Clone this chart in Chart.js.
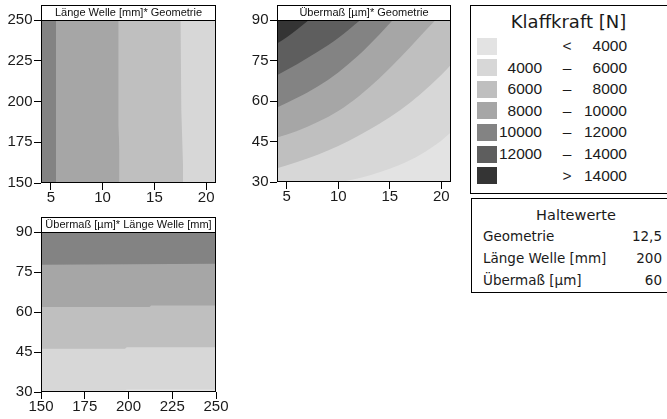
<!DOCTYPE html>
<html>
<head>
<meta charset="utf-8">
<script src="https://cdn.jsdelivr.net/npm/chart.js@4.4.0/dist/chart.umd.min.js"></script>
<style>
body { margin: 0; background: #fff; width: 667px; height: 419px; overflow: hidden; position: relative; font-family: "Liberation Sans", Arial, sans-serif; color: #1a1a1a; }
canvas { position: absolute; }
.rahmen { position: absolute; border: 1px solid #000; background: #fff; }
.txt { position: absolute; white-space: nowrap; line-height: 1; }
</style>
</head>
<body>
<canvas id="c1" width="232" height="215" style="left:0;top:0"></canvas>
<canvas id="c2" width="232" height="215" style="left:236px;top:0"></canvas>
<canvas id="c3" width="240" height="207" style="left:0;top:212px"></canvas>
<div class="rahmen" id="legende" style="left:470px;top:5px;width:230px;height:187px"></div>
<div class="rahmen" id="halte" style="left:471px;top:198px;width:230px;height:93px"></div>
<script>
// Klassen der Klaffkraft [N]
const stufenVon = [null, 4000, 6000, 8000, 10000, 12000, 14000];
const stufenBis = [4000, 6000, 8000, 10000, 12000, 14000, null];
const grau = ['#e3e3e3', '#d7d7d7', '#bfbfbf', '#a6a6a6', '#838383', '#5e5e5e', '#343434'];

// Haltewerte
const halteNamen = ['Geometrie', 'Länge Welle [mm]', 'Übermaß [µm]'];
const halteWerte = ['12,5', '200', '60'];

// Achsen
const geoTicks = [5, 10, 15, 20];
const laengeTicks = [150, 175, 200, 225, 250];
const uebermassTicks = [30, 45, 60, 75, 90];

// Panel 1: Länge Welle über Geometrie, Grenzlinien [Geometrie, Länge]
const lgGrenze6000 = [[4.0, 250], [17.53, 250], [17.6, 195], [17.77, 160], [17.77, 150]];
const lgGrenze8000 = [[4.0, 250], [11.53, 250], [11.53, 185], [11.63, 170], [11.63, 150]];
const lgGrenze10000 = [[4.0, 250], [5.5, 250], [5.5, 150]];

// Panel 2: Übermaß über Geometrie, Grenzlinien [Geometrie, Übermaß]
const ugGrenze4000 = [[10.2, 30], [12, 31.4], [14, 33.6], [16, 36.4], [18, 40.2], [20, 45.3], [21, 48.6]];
const ugGrenze6000 = [[4, 35.0], [6, 37.4], [8, 40.1], [10, 43.3], [12, 47.2], [14, 51.6], [16, 56.6], [18, 62.6], [20, 69.6], [21, 73.6]];
const ugGrenze8000 = [[4, 46.4], [6, 48.9], [8, 52.2], [10, 56.3], [12, 61.8], [14, 68.4], [16, 76.0], [18, 84.2], [19.45, 90]];
const ugGrenze10000 = [[4, 57.5], [6, 61.2], [8, 65.4], [10, 70.6], [12, 77.0], [14, 84.6], [15.3, 90]];
const ugGrenze12000 = [[4, 69.4], [6, 73.6], [8, 78.2], [10, 83.3], [12.15, 90]];
const ugGrenze14000 = [[4, 81.2], [5, 83.6], [6, 86.5], [7.15, 90]];

// Panel 3: Übermaß über Länge Welle, Grenzlinien [Länge, Übermaß]
const ulGrenze4000 = [[150, 30.5], [198, 30.5], [199, 30.9], [250, 30.9]];
const ulGrenze6000 = [[150, 46.25], [198, 46.25], [199, 46.75], [250, 46.75]];
const ulGrenze8000 = [[150, 61.9], [212, 61.9], [213, 62.4], [250, 62.4]];
const ulGrenze10000 = [[150, 77.7], [250, 78.1]];

// Hintergrund, Rahmen und Titelkasten je Diagramm
const kasten = {
    id: 'kasten',
    beforeDatasetsDraw(chart, args, opts) {
        const a = chart.chartArea, c = chart.ctx;
        c.save();
        c.fillStyle = opts.grund;
        c.fillRect(a.left, a.top, a.width, a.height);
        c.restore();
    },
    afterDraw(chart, args, opts) {
        const a = chart.chartArea, c = chart.ctx;
        c.save();
        c.fillStyle = '#fff';
        c.fillRect(a.left, a.top - 15, a.width, 15);
        c.strokeStyle = '#000';
        c.lineWidth = 1;
        c.strokeRect(a.left + 0.5, a.top - 14.5, a.width - 1, a.height + 14);
        c.beginPath();
        c.moveTo(a.left, a.top + 0.5);
        c.lineTo(a.right, a.top + 0.5);
        c.stroke();
        c.fillStyle = '#111';
        c.font = '11px "Liberation Sans"';
        c.textAlign = 'center';
        c.textBaseline = 'middle';
        c.fillText(opts.titel, (a.left + a.right) / 2, a.top - 7);
        c.restore();
    }
};

function flaeche(punkte, stufe, fill, glatt) {
    return {
        data: punkte.map(p => ({ x: p[0], y: p[1] })),
        fill: fill,
        backgroundColor: grau[stufe],
        borderColor: 'rgba(0,0,0,0)',
        borderWidth: 0,
        pointRadius: 0,
        tension: 0,
        cubicInterpolationMode: glatt ? 'monotone' : 'default',
        order: 10 - stufe
    };
}

function achse(min, max, ticks, fit, feld, abstand) {
    return {
        type: 'linear', min: min, max: max,
        afterBuildTicks: s => { s.ticks = ticks.map(v => ({ value: v })); },
        afterFit: s => { s[feld] = fit; },
        border: { display: false },
        grid: { drawOnChartArea: false, drawTicks: true, tickLength: 7, color: '#000' },
        ticks: { color: '#1a1a1a', font: { family: 'Liberation Sans', size: 15 }, padding: abstand, maxRotation: 0, autoSkip: false }
    };
}

function diagramm(id, datasets, x, y, rechts, titel, grund) {
    new Chart(document.getElementById(id), {
        type: 'line',
        data: { datasets: datasets },
        options: {
            responsive: false,
            animation: false,
            events: [],
            layout: { padding: { top: 20, left: 0, right: rechts, bottom: 0 } },
            plugins: { legend: { display: false }, tooltip: { enabled: false }, kasten: { titel: titel, grund: grund } },
            scales: { x: x, y: y }
        },
        plugins: [kasten]
    });
}

diagramm('c1', [
    flaeche(lgGrenze6000, 2, 'start'),
    flaeche(lgGrenze8000, 3, 'start'),
    flaeche(lgGrenze10000, 4, 'start')
], achse(4.05, 20.95, geoTicks, 32, 'height', -1), achse(150, 250, laengeTicks, 41, 'width', 1.5), 16,
'Länge Welle [mm]* Geometrie', grau[1]);

diagramm('c2', [
    flaeche(ugGrenze4000, 0, 'start', true),
    flaeche(ugGrenze6000, 2, 'end', true),
    flaeche(ugGrenze8000, 3, 'end', true),
    flaeche(ugGrenze10000, 4, 'end', true),
    flaeche(ugGrenze12000, 5, 'end', true),
    flaeche(ugGrenze14000, 6, 'end', true)
], achse(4.05, 20.95, geoTicks, 33, 'height', -1), achse(30, 90, uebermassTicks, 41, 'width', 1.5), 17,
'Übermaß [µm]* Geometrie', grau[1]);

diagramm('c3', [
    flaeche(ulGrenze4000, 1, 'end'),
    flaeche(ulGrenze6000, 2, 'end'),
    flaeche(ulGrenze8000, 3, 'end'),
    flaeche(ulGrenze10000, 4, 'end')
], achse(150, 250, laengeTicks, 27, 'height', -1), achse(30, 90, uebermassTicks, 41, 'width', 1.5), 24,
'Übermaß [µm]* Länge Welle [mm]', grau[0]);

// Legende und Haltewerte
function text(el, inhalt, links, oben, breite, ausrichtung, groesse, schrift) {
    const d = document.createElement('div');
    d.className = 'txt';
    d.textContent = inhalt;
    d.style.left = links + 'px';
    d.style.top = oben + 'px';
    d.style.width = breite + 'px';
    d.style.textAlign = ausrichtung;
    d.style.fontSize = groesse + 'px';
    if (schrift) d.style.fontFamily = schrift;
    el.appendChild(d);
}
const leg = document.getElementById('legende');
text(leg, 'Klaffkraft [N]', 9.5, 7, 176, 'center', 18, '"DejaVu Sans"');
stufenVon.forEach((von, i) => {
    const mitte = 40 + i * 21.6;
    const f = document.createElement('div');
    f.style.cssText = 'position:absolute;left:6px;width:20px;height:17px;top:' + (mitte - 8.5) + 'px;background:' + grau[i];
    leg.appendChild(f);
    const bis = stufenBis[i];
    let l = '', op = '–', r = '';
    if (von === null) { op = '<'; r = bis; }
    else if (bis === null) { op = '>'; r = von; }
    else { l = von; r = bis; }
    text(leg, String(l), 10, mitte - 8, 61, 'right', 15.5);
    text(leg, op, 85, mitte - 8, 22, 'center', 15.5);
    text(leg, String(r), 105, mitte - 8, 51, 'right', 15.5);
});
const halte = document.getElementById('halte');
text(halte, 'Haltewerte', 54, 9, 100, 'center', 14.5, '"DejaVu Sans"');
halteNamen.forEach((n, i) => {
    const oben = 31 + i * 22;
    text(halte, n, 11, oben, 140, 'left', 13.5, '"DejaVu Sans"');
    text(halte, halteWerte[i], 140, oben, 50, 'right', 13.5, '"DejaVu Sans"');
});
</script>
</body>
</html>
